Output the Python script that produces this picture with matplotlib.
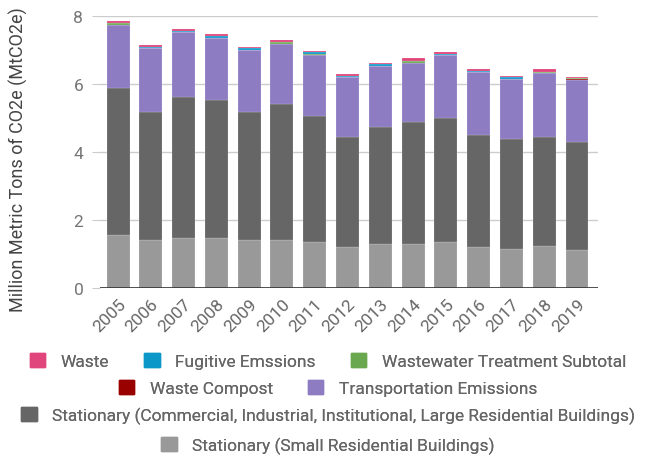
import matplotlib
matplotlib.use("Agg")
import matplotlib.pyplot as plt
import matplotlib.patches as mpatches
import numpy as np

plt.rcParams['font.family'] = ['Roboto', 'DejaVu Sans']

# Data (MtCO2e)
years = ['2005', '2006', '2007', '2008', '2009', '2010', '2011', '2012',
         '2013', '2014', '2015', '2016', '2017', '2018', '2019']
smallRes = [1.55, 1.42, 1.46, 1.46, 1.42, 1.42, 1.34, 1.21, 1.29, 1.29, 1.34, 1.21, 1.16, 1.25, 1.12]
stationary = [4.32, 3.76, 4.16, 4.07, 3.76, 3.98, 3.73, 3.24, 3.44, 3.59, 3.67, 3.29, 3.21, 3.20, 3.18]
transport = [1.86, 1.88, 1.91, 1.83, 1.83, 1.77, 1.77, 1.75, 1.80, 1.75, 1.83, 1.84, 1.78, 1.86, 1.83]
compost = [0, 0, 0, 0, 0, 0, 0, 0, 0, 0, 0, 0, 0, 0, 0.02]
wastewater = [0.07, 0, 0, 0, 0, 0.06, 0.05, 0, 0, 0.05, 0, 0, 0, 0.04, 0.03]
fugitive = [0, 0.04, 0.04, 0.05, 0.05, 0, 0.05, 0.04, 0.05, 0, 0.05, 0.05, 0.05, 0, 0]
waste = [0.04, 0.04, 0.04, 0.05, 0.04, 0.05, 0.04, 0.04, 0.04, 0.08, 0.04, 0.04, 0.04, 0.08, 0.03]

# bottom -> top
series = [
    ('Stationary (Small Residential Buildings)', smallRes, '#999999'),
    ('Stationary (Commercial, Industrial, Institutional, Large Residential Buildings)', stationary, '#666666'),
    ('Transportation Emissions', transport, '#8e7cc3'),
    ('Waste Compost', compost, '#990000'),
    ('Wastewater Treatment Subtotal', wastewater, '#6aa84f'),
    ('Fugitive Emssions', fugitive, '#0b98c9'),
    ('Waste', waste, '#e0457b'),
]

fig = plt.figure(figsize=(6.56, 4.56), dpi=100)
ax = fig.add_axes([100/656, 1-289/456, 498/656, 272/456])

x = np.arange(len(years))
bottom = np.zeros(len(years))
for name, vals, col in series:
    ax.bar(x, vals, 0.7, bottom=bottom, color=col, edgecolor=(1, 1, 1, 0.4), linewidth=0.3, zorder=3)
    bottom += np.array(vals)

ax.set_ylim(0, 8)
ax.set_xlim(-0.55, 14.64)
ax.set_yticks([0, 2, 4, 6, 8])
ax.grid(axis='y', color='#cccccc', linewidth=1, zorder=0)
ax.axhline(0, color='#333333', linewidth=1.2, zorder=4)
for s in ax.spines.values():
    s.set_visible(False)
ax.tick_params(axis='y', length=6, color='#cccccc', labelcolor='#757575', labelsize=12.5, pad=6)
ax.tick_params(axis='x', length=0, labelcolor='#666666', labelsize=12.5, pad=6)
ax.set_xticks(x)
ax.set_xticklabels(years, rotation=45, ha='right', rotation_mode='anchor')
fig.text(18/656, 1-160/456, 'Million Metric Tons of CO2e (MtCO2e)', rotation=90,
         ha='center', va='center', fontsize=13, color='#444444')

# legend rows, centred
handles = {name: mpatches.Patch(color=col, label=name) for name, vals, col in series}
rows = [
    (['Waste', 'Fugitive Emssions', 'Wastewater Treatment Subtotal'], 362),
    (['Waste Compost', 'Transportation Emissions'], 389),
    (['Stationary (Commercial, Industrial, Institutional, Large Residential Buildings)'], 416),
    (['Stationary (Small Residential Buildings)'], 446),
]
for names, ypix in rows:
    leg = fig.legend(handles=[handles[n] for n in names], loc='center',
                     bbox_to_anchor=(0.5, 1 - ypix/456), ncol=len(names), frameon=False,
                     fontsize=12.5, handlelength=0.9, handleheight=0.9, handletextpad=0.9,
                     columnspacing=2.0, borderpad=0, borderaxespad=0)
    for t in leg.get_texts():
        t.set_color('#666666')
    fig.add_artist(leg)

fig.savefig('out.png', dpi=100)
